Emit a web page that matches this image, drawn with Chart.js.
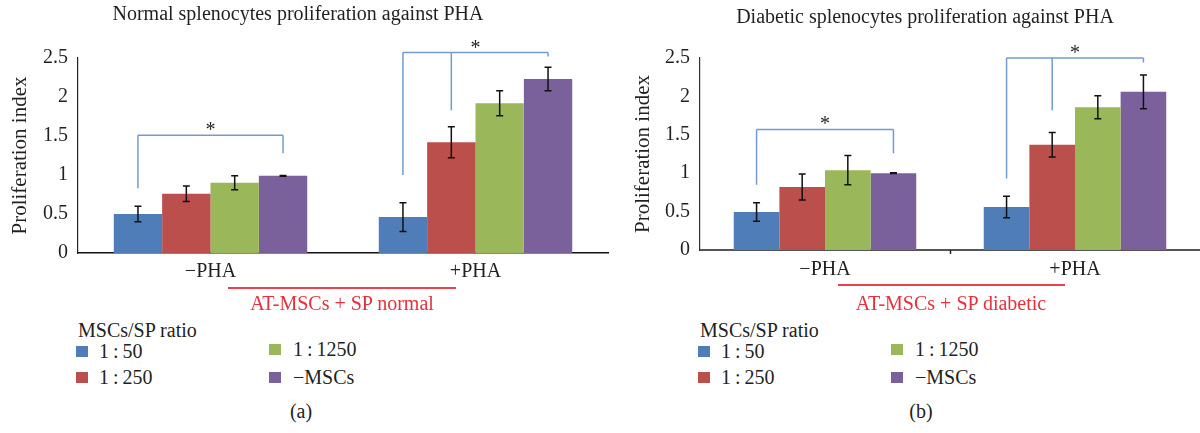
<!DOCTYPE html>
<html><head><meta charset="utf-8">
<script src="https://cdn.jsdelivr.net/npm/chart.js@4.4.1/dist/chart.umd.min.js"></script>
<style>
body{margin:0;width:1200px;height:433px;background:#fff;position:relative;overflow:hidden;font-family:"Liberation Serif",serif;color:#231f20}
.abs{position:absolute;white-space:nowrap;font-size:20px;line-height:20px}
.sq{position:absolute;width:12px;height:11px}
.red{color:#e8303c}
.rline{position:absolute;height:2px;background:#ee4048}
canvas{position:absolute;top:0}
</style></head><body>
<canvas id="c1" width="620" height="300" style="left:0"></canvas>
<canvas id="c2" width="580" height="300" style="left:620px"></canvas>
<div id="ann"></div>
<script>
// ---- data ----
const categories = ["\u2212PHA", "+PHA"];
const seriesLabels = ["1\u2009:\u200950", "1\u2009:\u2009250", "1\u2009:\u20091250", "\u2212MSCs"];
const seriesColors = ["#4f7db8", "#bb4f4c", "#9ab75a", "#7a619b"];
const yTicks = [0, 0.5, 1, 1.5, 2, 2.5];

// normal splenocytes
const normal50   = [0.50, 0.46];
const normal250  = [0.76, 1.42];
const normal1250 = [0.90, 1.92];
const normalNoMSC = [0.99, 2.23];
const normal50Err   = [0.10, 0.185];
const normal250Err  = [0.10, 0.20];
const normal1250Err = [0.09, 0.16];
const normalNoMSCErr = [0.005, 0.15];

// diabetic splenocytes
const diab50   = [0.495, 0.56];
const diab250  = [0.82, 1.37];
const diab1250 = [1.04, 1.86];
const diabNoMSC = [1.00, 2.06];
const diab50Err   = [0.12, 0.14];
const diab250Err  = [0.17, 0.16];
const diab1250Err = [0.19, 0.15];
const diabNoMSCErr = [0.005, 0.22];

// significance brackets (category index, series joined, leg bottoms, bar top) in data units
const normalBrackets = [
  {cat: 0, series: [0, 3], legs: [0.83, 1.28], top: 1.51},
  {cat: 1, series: [0, 1, 3], legs: [1.0, 1.83, 2.52], top: 2.57}
];
const diabBrackets = [
  {cat: 0, series: [0, 3], legs: [0.85, 1.26], top: 1.57},
  {cat: 1, series: [0, 1, 3], legs: [0.93, 1.82, 2.44], top: 2.50}
];

const FONT = "'Liberation Serif', serif";
const TXT = "#231f20";

const overlay = {
  id: 'overlay',
  afterDatasetsDraw(chart, args, opts) {
    const ctx = chart.ctx, y = chart.scales.y, x = chart.scales.x;
    ctx.save();
    // category separator tick
    if (opts.midTick) {
      const mx = Math.round((x.getPixelForValue(0) + x.getPixelForValue(1)) / 2) + 0.5;
      const y0 = y.getPixelForValue(0);
      ctx.strokeStyle = '#222'; ctx.lineWidth = 1.5;
      ctx.beginPath(); ctx.moveTo(mx, y0); ctx.lineTo(mx, y0 + 4); ctx.stroke();
    }
    // error bars
    ctx.strokeStyle = '#111';
    ctx.lineWidth = 1.5;
    chart.data.datasets.forEach((ds, i) => {
      chart.getDatasetMeta(i).data.forEach((bar, j) => {
        const v = ds.data[j], e = opts.errors[i][j];
        const yt = y.getPixelForValue(v + e), yb = y.getPixelForValue(v - e);
        ctx.beginPath();
        ctx.moveTo(bar.x, yt); ctx.lineTo(bar.x, yb);
        ctx.moveTo(bar.x - 3.5, yt); ctx.lineTo(bar.x + 3.5, yt);
        ctx.moveTo(bar.x - 3.5, yb); ctx.lineTo(bar.x + 3.5, yb);
        ctx.stroke();
      });
    });
    // brackets
    ctx.strokeStyle = '#729bd2';
    ctx.lineWidth = 1.5;
    opts.brackets.forEach(b => {
      const xs = b.series.map(s => chart.getDatasetMeta(s).data[b.cat].x);
      const yTop = y.getPixelForValue(b.top);
      ctx.beginPath();
      ctx.moveTo(xs[0], yTop); ctx.lineTo(xs[xs.length - 1], yTop);
      xs.forEach((xx, k) => { ctx.moveTo(xx, yTop); ctx.lineTo(xx, y.getPixelForValue(b.legs[k])); });
      ctx.stroke();
      ctx.fillStyle = TXT;
      ctx.font = "20px " + FONT;
      ctx.textAlign = 'center';
      ctx.textBaseline = 'alphabetic';
      ctx.fillText('*', (xs[0] + xs[xs.length - 1]) / 2, yTop + 1);
    });
    ctx.restore();
  }
};

function makeChart(id, series, errors, brackets, cfg) {
  return new Chart(document.getElementById(id), {
    type: 'bar',
    data: {
      labels: categories,
      datasets: series.map((d, i) => ({
        label: seriesLabels[i], data: d, backgroundColor: seriesColors[i],
        categoryPercentage: 0.73, barPercentage: 1.0, borderWidth: 0
      }))
    },
    options: {
      responsive: false, animation: false,
      layout: {padding: {top: cfg.top, right: cfg.right, left: 0, bottom: 0}},
      plugins: {legend: {display: false}, tooltip: {enabled: false}, title: {display: false},
        overlay: {errors, brackets, midTick: cfg.midTick}},
      scales: {
        x: {
          grid: {display: false},
          border: {display: true, color: cfg.xColor, width: cfg.xWidth},
          ticks: {color: TXT, font: {family: FONT, size: 20}, padding: cfg.xPad},
          afterFit: s => { s.height = cfg.xHeight; }
        },
        y: {
          min: 0, max: 2.5,
          afterBuildTicks: s => { s.ticks = yTicks.map(v => ({value: v})); },
          grid: {display: false, drawTicks: false},
          border: {display: true, color: cfg.yColor, width: 1.2},
          ticks: {color: TXT, font: {family: FONT, size: 20}, padding: 10, callback: v => String(v)},
          title: {display: true, text: 'Proliferation index', color: TXT, font: {family: FONT, size: 21}, padding: {top: cfg.tPad, bottom: 0}},
          afterFit: s => { s.width = cfg.yWidth; }
        }
      }
    },
    plugins: [overlay]
  });
}

makeChart('c1', [normal50, normal250, normal1250, normalNoMSC],
  [normal50Err, normal250Err, normal1250Err, normalNoMSCErr], normalBrackets,
  {top: 58, right: 12, xHeight: 47, yWidth: 78, xPad: -1, tPad: 8, xColor: '#111', xWidth: 1.5, yColor: '#222', midTick: false});
makeChart('c2', [diab50, diab250, diab1250, diabNoMSC],
  [diab50Err, diab250Err, diab1250Err, diabNoMSCErr], diabBrackets,
  {top: 58, right: 0, xHeight: 50, yWidth: 80, xPad: 0, tPad: 11, xColor: '#555', xWidth: 2, yColor: '#333', midTick: true});

// ---- annotations (titles, group labels, legends) ----
const panels = [
  {title: 'Normal splenocytes proliferation against PHA', titleX: 298, titleY: 13,
   group: 'AT-MSCs + SP normal', lineX: [228, 456], lineY: 288, groupX: 342, groupY: 303,
   legX: 76, legTextX: 99, leg2X: 269, leg2TextX: 293, tag: '(a)', tagX: 301},
  {title: 'Diabetic splenocytes proliferation against PHA', titleX: 925, titleY: 16,
   group: 'AT-MSCs + SP diabetic', lineX: [838, 1065], lineY: 285, groupX: 951, groupY: 303,
   legX: 698, legTextX: 721, leg2X: 891, leg2TextX: 915, tag: '(b)', tagX: 921}
];
const ann = document.getElementById('ann');
function txt(s, x, y, center, cls) {
  const d = document.createElement('div');
  d.className = 'abs ' + (cls || '');
  d.textContent = s;
  d.style.top = (y - 10) + 'px';
  if (center) { d.style.left = x + 'px'; d.style.transform = 'translateX(-50%)'; }
  else d.style.left = x + 'px';
  ann.appendChild(d);
}
panels.forEach(p => {
  txt(p.title, p.titleX, p.titleY, true);
  const l = document.createElement('div');
  l.className = 'rline';
  l.style.left = p.lineX[0] + 'px'; l.style.width = (p.lineX[1] - p.lineX[0]) + 'px'; l.style.top = (p.lineY - 1) + 'px';
  ann.appendChild(l);
  txt(p.group, p.groupX, p.groupY, true, 'red');
  txt('MSCs/SP ratio', p.legX + 2, 330);
  const rows = [351, 377];
  seriesLabels.forEach((s, i) => {
    const col = Math.floor(i / 2), row = i % 2;
    const yy = rows[row] - (col === 1 && row === 0 ? 2 : 0);
    const sq = document.createElement('div');
    sq.className = 'sq';
    sq.style.background = seriesColors[i];
    sq.style.left = (col ? p.leg2X : p.legX) + 'px';
    sq.style.top = (yy - 5) + 'px';
    ann.appendChild(sq);
    txt(s, col ? p.leg2TextX : p.legTextX, yy);
  });
  txt(p.tag, p.tagX, 411, true);
});
</script>
</body></html>
